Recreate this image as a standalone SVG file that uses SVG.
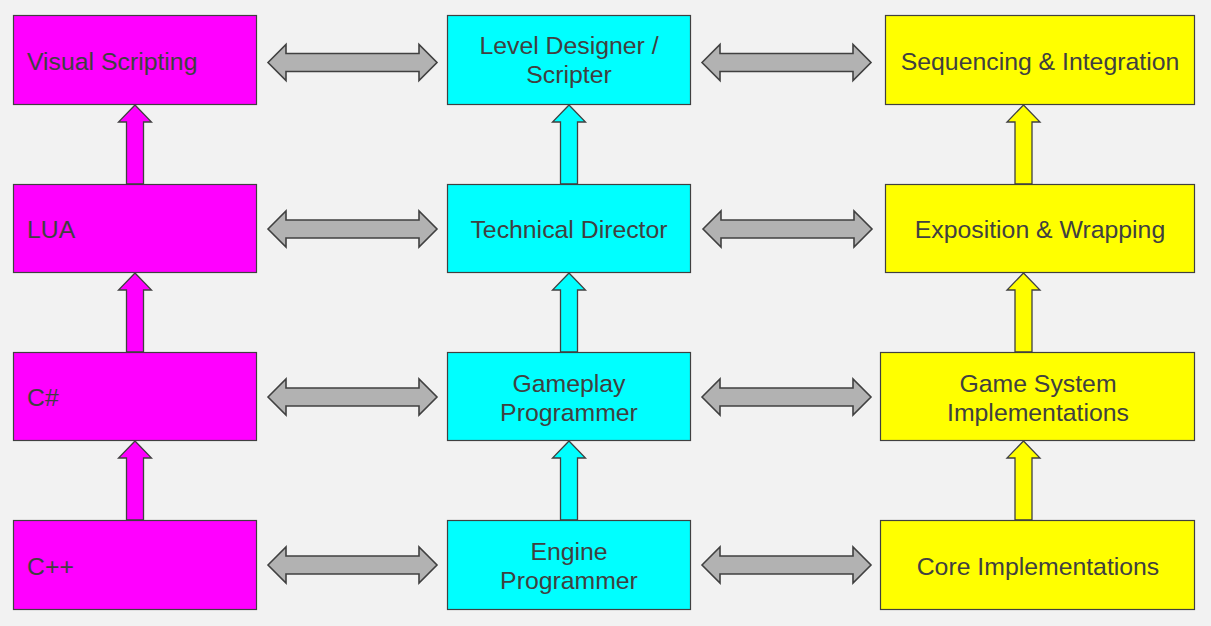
<svg xmlns="http://www.w3.org/2000/svg" xmlns:xlink="http://www.w3.org/1999/xlink" width="1211" height="626" viewBox="0 0 1211 626">
<style>
  .box{stroke:#404040;stroke-width:1.2}
  .mag{fill:#ff00ff}
  .cy{fill:#00ffff}
  .ye{fill:#ffff00}
  .t{font-family:"Liberation Sans",Arial,sans-serif;font-size:24.8px;fill:#404040}
  .c{text-anchor:middle}
  .harrow{fill:#b2b2b2;stroke:#404040;stroke-width:1.6;stroke-linejoin:miter}
  .varrow{stroke:#404040;stroke-width:1.3;stroke-linejoin:miter}
</style>
<defs>
  <path id="dbl" d="M0 0 L18 -18 L18 -9 L151 -9 L151 -18 L169 0 L151 18 L151 9 L18 9 L18 18 Z"/>
  <path id="up" d="M0 0 L16.5 17 L8.5 17 L8.5 79 L-8.5 79 L-8.5 17 L-16.5 17 Z"/>
</defs>
<rect width="1211" height="626" fill="#f2f2f2"/>

<g id="connectors">
  <use href="#dbl" class="harrow" x="268" y="62.5"/>
  <use href="#dbl" class="harrow" x="702" y="62.5"/>
  <use href="#dbl" class="harrow" x="268" y="229"/>
  <use href="#dbl" class="harrow" x="703" y="229"/>
  <use href="#dbl" class="harrow" x="268" y="397"/>
  <use href="#dbl" class="harrow" x="702" y="397"/>
  <use href="#dbl" class="harrow" x="268" y="565"/>
  <use href="#dbl" class="harrow" x="702" y="565"/>

  <use href="#up" class="varrow mag" x="135" y="105"/>
  <use href="#up" class="varrow mag" x="135" y="273"/>
  <use href="#up" class="varrow mag" x="135" y="441"/>
  <use href="#up" class="varrow cy" x="569" y="105"/>
  <use href="#up" class="varrow cy" x="569" y="273"/>
  <use href="#up" class="varrow cy" x="569" y="441"/>
  <use href="#up" class="varrow ye" x="1023.5" y="105"/>
  <use href="#up" class="varrow ye" x="1023.5" y="273"/>
  <use href="#up" class="varrow ye" x="1023.5" y="441"/>
</g>

<g id="visual-scripting"><rect class="box mag" x="13.5" y="15.5" width="243" height="89"/><text class="t" x="27" y="70">Visual Scripting</text></g>
<g id="lua"><rect class="box mag" x="13.5" y="184.5" width="243" height="88"/><text class="t" x="27" y="238">LUA</text></g>
<g id="csharp"><rect class="box mag" x="13.5" y="352.5" width="243" height="88"/><text class="t" x="27" y="406">C#</text></g>
<g id="cpp"><rect class="box mag" x="13.5" y="520.5" width="243" height="89"/><text class="t" x="27" y="575">C++</text></g>

<g id="level-designer"><rect class="box cy" x="447.5" y="15.5" width="243" height="89"/><text class="t c" x="569" y="54">Level Designer /</text><text class="t c" x="569" y="83">Scripter</text></g>
<g id="technical-director"><rect class="box cy" x="447.5" y="184.5" width="243" height="88"/><text class="t c" x="569" y="238">Technical Director</text></g>
<g id="gameplay-programmer"><rect class="box cy" x="447.5" y="352.5" width="243" height="88"/><text class="t c" x="569" y="392">Gameplay</text><text class="t c" x="569" y="421">Programmer</text></g>
<g id="engine-programmer"><rect class="box cy" x="447.5" y="520.5" width="243" height="89"/><text class="t c" x="569" y="560">Engine</text><text class="t c" x="569" y="589">Programmer</text></g>

<g id="sequencing"><rect class="box ye" x="885.5" y="15.5" width="309" height="89"/><text class="t c" x="1040" y="70">Sequencing &amp; Integration</text></g>
<g id="exposition"><rect class="box ye" x="885.5" y="184.5" width="309" height="88"/><text class="t c" x="1040" y="238">Exposition &amp; Wrapping</text></g>
<g id="game-system"><rect class="box ye" x="880.5" y="352.5" width="314" height="88"/><text class="t c" x="1038" y="392">Game System</text><text class="t c" x="1038" y="421">Implementations</text></g>
<g id="core"><rect class="box ye" x="880.5" y="520.5" width="314" height="89"/><text class="t c" x="1038" y="575">Core Implementations</text></g>
</svg>
